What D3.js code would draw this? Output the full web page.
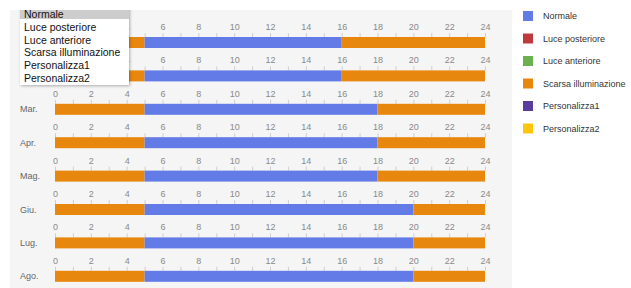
<html>
<head>
  <script src="https://d3js.org/d3.v7.min.js"></script>
  <style>
    body { margin: 0; background: #fff; }
    text { font-family: Arial, "Liberation Sans", sans-serif; }
    .axis .domain { stroke: none; }
    .axis line { stroke: #cfcfcf; }
    .axis text { fill: #8a8a8a; font-size: 9px; }
  </style>
</head>
<body>
  <svg id="chart" width="631" height="288"></svg>
  <script>
    // month rows and the hours where "Normale" mode is active
    const months = ["Gen.", "Feb.", "Mar.", "Apr.", "Mag.", "Giu.", "Lug.", "Ago."];
    const normaleStart = [5, 5, 5, 5, 5, 5, 5, 5];
    const normaleEnd = [16, 16, 18, 18, 18, 20, 20, 20];
    const hourTicks = d3.range(0, 25);

    const modes = ["Normale", "Luce posteriore", "Luce anteriore", "Scarsa illuminazione", "Personalizza1", "Personalizza2"];
    const modeColors = ["#627be6", "#c0393c", "#6ab14f", "#e8870d", "#5a3c9e", "#fec60b"];

    const svg = d3.select("svg#chart");
    const color = d3.scaleOrdinal().domain(modes).range(modeColors);

    const x = d3.scaleLinear().domain([0, 24]).range([55, 485]);
    const row = d3.scaleBand().domain(months).range([10, 277.2]);

    // grey panel behind the timelines
    svg.append("rect")
      .attr("x", 10).attr("y", 10)
      .attr("width", 502).attr("height", 278)
      .attr("fill", "#f5f5f5");

    // build segments: scarsa - normale - scarsa
    const segments = [];
    months.forEach((m, i) => {
      segments.push({ month: m, from: 0, to: normaleStart[i], mode: "Scarsa illuminazione" });
      segments.push({ month: m, from: normaleStart[i], to: normaleEnd[i], mode: "Normale" });
      segments.push({ month: m, from: normaleEnd[i], to: 24, mode: "Scarsa illuminazione" });
    });

    const barTop = 27;
    const barH = 11;

    months.forEach((m) => {
      svg.append("g")
        .attr("class", "axis")
        .attr("transform", "translate(0," + (row(m) + barTop) + ")")
        .call(d3.axisTop(x)
          .tickValues(hourTicks)
          .tickSize(4)
          .tickPadding(3)
          .tickFormat(d => d % 2 === 0 ? d : ""));

      svg.append("text")
        .text(m)
        .attr("x", 20)
        .attr("y", row(m) + barTop + barH / 2)
        .attr("dominant-baseline", "central")
        .style("font-size", "9px")
        .style("fill", "#666");
    });

    svg.append("g").selectAll("rect").data(segments)
      .join("rect")
      .attr("x", d => x(d.from))
      .attr("width", d => x(d.to) - x(d.from))
      .attr("y", d => row(d.month) + barTop)
      .attr("height", barH)
      .attr("fill", d => color(d.mode));

    // legend
    const legend = svg.append("g");
    modes.forEach((d, i) => {
      const cy = 16 + i * 22.5;
      legend.append("rect")
        .attr("x", 523).attr("y", cy - 5)
        .attr("width", 10).attr("height", 10)
        .attr("fill", color(d));
      legend.append("text")
        .text(d)
        .attr("x", 543).attr("y", cy)
        .attr("dominant-baseline", "central")
        .style("font-size", "9px")
        .style("fill", "#333");
    });

    // open dropdown list, clipped at the panel top
    const defs = svg.append("defs");
    defs.append("clipPath").attr("id", "ddclip")
      .append("rect").attr("x", 0).attr("y", 10).attr("width", 631).attr("height", 278);
    const f = defs.append("filter").attr("id", "shadow").attr("x", "-10%").attr("y", "-10%").attr("width", "130%").attr("height", "130%");
    f.append("feDropShadow").attr("dx", 1).attr("dy", 1).attr("stdDeviation", 1.5).attr("flood-color", "#000").attr("flood-opacity", 0.3);

    const dd = svg.append("g").attr("clip-path", "url(#ddclip)");
    dd.append("rect")
      .attr("x", 20).attr("y", 5)
      .attr("width", 109).attr("height", 80)
      .attr("fill", "#fff")
      .attr("filter", "url(#shadow)");
    dd.append("rect")
      .attr("x", 20).attr("y", 5)
      .attr("width", 109).attr("height", 14)
      .attr("fill", "#cdcdcd");
    modes.forEach((d, i) => {
      dd.append("text")
        .text(d)
        .attr("x", 24)
        .attr("y", 14 + i * 12.8)
        .attr("dominant-baseline", "central")
        .style("font-size", "10.5px")
        .style("fill", "#111");
    });
  </script>
</body>
</html>
